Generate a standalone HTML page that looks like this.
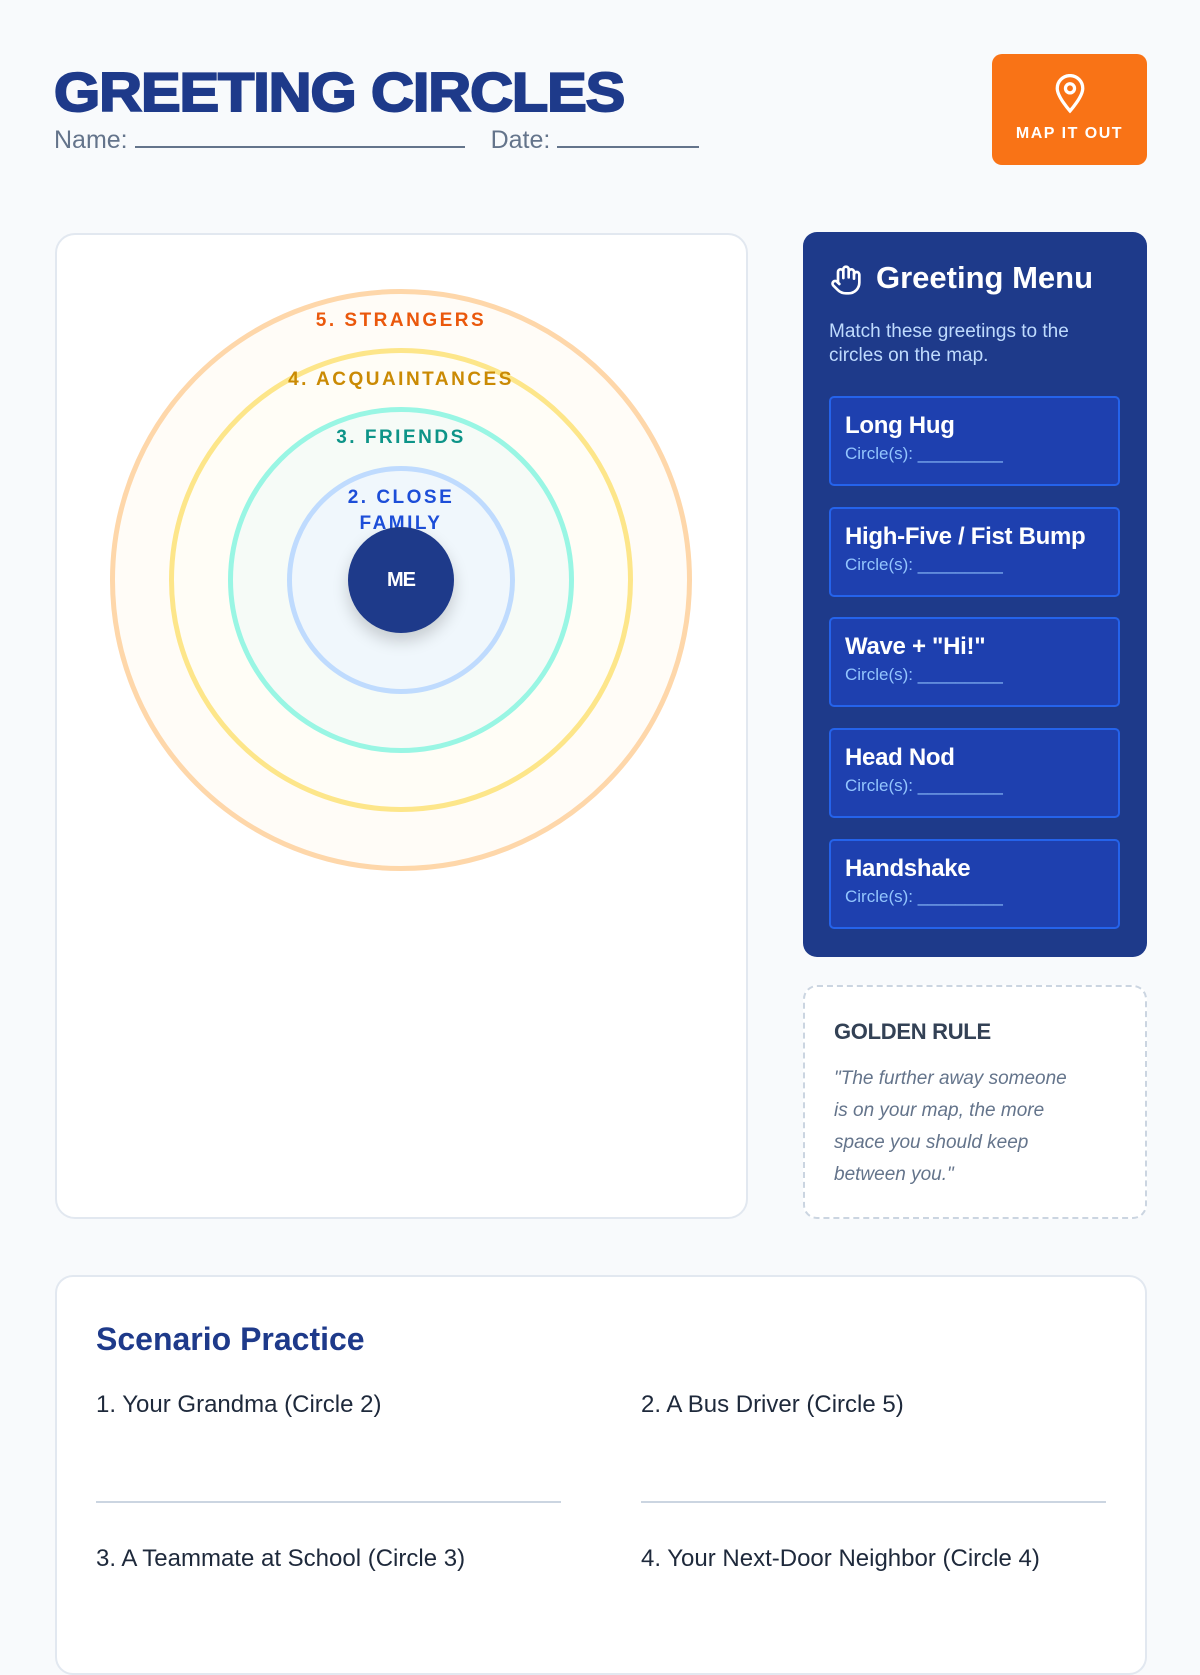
<!DOCTYPE html>
<html><head><meta charset="utf-8"><style>
*{margin:0;padding:0;box-sizing:border-box}
body{width:1200px;height:1600px;background:#f8fafc;font-family:"Liberation Sans",sans-serif;position:relative;overflow:hidden}
.a{position:absolute}
h1{position:absolute;left:54px;top:60px;font-size:55px;font-weight:900;color:#1e3a8a;letter-spacing:-1px;-webkit-text-stroke:2px #1e3a8a;transform:scaleX(1.08);transform-origin:left;white-space:nowrap}
.nd{left:54px;top:126px;font-size:25px;color:#64748b;white-space:nowrap}
.ul{display:inline-block;border-bottom:2px solid #64748b;height:22px;vertical-align:baseline}
.btn{left:992px;top:54px;width:155px;height:111px;background:#f97316;border-radius:10px;color:#fff;text-align:center;font-weight:bold;font-size:16px;letter-spacing:1.5px}
.card{left:55px;top:233px;width:693px;height:986px;background:#fff;border:2px solid #e2e8f0;border-radius:20px}
.ring{position:absolute;border-radius:50%}
.lbl{position:absolute;width:400px;left:201px;text-align:center;font-weight:bold;font-size:19px;letter-spacing:2.5px}
.menu{left:803px;top:232px;width:344px;height:725px;background:#1e3a8a;border-radius:14px}
.item{position:absolute;left:26px;width:291px;height:90px;background:#1e40af;border:2px solid #2563eb;border-radius:5px;padding:14px 0 0 14px}
.item b{display:block;color:#fff;font-size:24px;letter-spacing:-0.3px}
.item span{display:block;color:#93c5fd;font-size:17px;margin-top:4px}
.gold{left:803px;top:985px;width:344px;height:234px;border:2px dashed #cbd5e1;border-radius:14px;background:#fff}
.sc{left:55px;top:1275px;width:1092px;height:400px;background:#fff;border:2px solid #e2e8f0;border-radius:18px}
.q{position:absolute;font-size:24px;color:#1e293b}
.ln{position:absolute;height:2px;background:#cbd5e1;width:465px}
</style></head><body>
<h1>GREETING CIRCLES</h1>
<div class="a nd">Name: <span class="ul" style="width:330px"></span><span style="display:inline-block;width:26px"></span>Date: <span class="ul" style="width:142px"></span></div>
<div class="a btn">
<svg width="34" height="40" viewBox="0 0 24 28" style="margin-top:20px"><path d="M12 26C12 26 3 16 3 10a9 9 0 0 1 18 0c0 6-9 16-9 16z" fill="none" stroke="#fff" stroke-width="2.3"/><circle cx="12" cy="10" r="3.2" fill="none" stroke="#fff" stroke-width="2.3"/></svg>
<div style="margin-top:6px">MAP IT OUT</div></div>
<div class="a card"></div>
<div class="ring" style="left:110px;top:289px;width:582px;height:582px;border:5px solid #fed7aa;background:#fffcf7"></div>
<div class="ring" style="left:169px;top:348px;width:464px;height:464px;border:5px solid #fde68a;background:#fffdf6"></div>
<div class="ring" style="left:228px;top:407px;width:346px;height:346px;border:5px solid #99f6e4;background:#f6fbf7"></div>
<div class="ring" style="left:287px;top:466px;width:228px;height:228px;border:5px solid #bfdbfe;background:#f0f7fc"></div>
<div class="lbl" style="top:310px;color:#ea580c">5. STRANGERS</div>
<div class="lbl" style="top:369px;color:#ca8a04">4. ACQUAINTANCES</div>
<div class="lbl" style="top:427px;color:#0d9488">3. FRIENDS</div>
<div class="lbl" style="top:485px;color:#1d4ed8;line-height:26px">2. CLOSE<br>FAMILY</div>
<div class="ring" style="left:348px;top:527px;width:106px;height:106px;background:#1e3a8a;box-shadow:0 8px 16px rgba(0,0,0,.18);color:#fff;font-weight:bold;font-size:20px;text-align:center;line-height:106px;letter-spacing:-1px">ME</div>
<div class="a menu">
<svg class="a" style="left:26px;top:32px" width="34" height="32" viewBox="0 0 24 24" fill="none" stroke="#fff" stroke-width="2" stroke-linecap="round" stroke-linejoin="round"><path d="M18 11V6a2 2 0 0 0-4 0M14 10V4a2 2 0 0 0-4 0v2M10 10.5V6a2 2 0 0 0-4 0v8"/><path d="M18 8a2 2 0 1 1 4 0v6a8 8 0 0 1-8 8h-2c-2.8 0-4.5-.86-5.99-2.34l-3.6-3.6a2 2 0 0 1 2.83-2.82L7 15"/></svg>
<div class="a" style="left:73px;top:28px;color:#fff;font-size:31px;font-weight:bold">Greeting Menu</div>
<div class="a" style="left:26px;top:88px;width:275px;color:#bfdbfe;font-size:19px;line-height:24px">Match these greetings to the circles on the map.</div>
<div class="item" style="top:164px"><b>Long Hug</b><span>Circle(s): _________</span></div>
<div class="item" style="top:275px"><b>High-Five / Fist Bump</b><span>Circle(s): _________</span></div>
<div class="item" style="top:385px"><b>Wave + "Hi!"</b><span>Circle(s): _________</span></div>
<div class="item" style="top:496px"><b>Head Nod</b><span>Circle(s): _________</span></div>
<div class="item" style="top:607px"><b>Handshake</b><span>Circle(s): _________</span></div>
</div>
<div class="a gold">
<div class="a" style="left:29px;top:32px;font-size:22px;font-weight:bold;color:#334155;letter-spacing:-0.3px">GOLDEN RULE</div>
<div class="a" style="left:29px;top:76px;width:300px;font-size:19px;font-style:italic;color:#64748b;line-height:32px;white-space:nowrap">"The further away someone<br>is on your map, the more<br>space you should keep<br>between you."</div>
</div>
<div class="a sc">
<div class="a" style="left:39px;top:44px;font-size:32px;font-weight:bold;color:#1e3a8a">Scenario Practice</div>
<div class="q" style="left:39px;top:114px">1. Your Grandma (Circle 2)</div>
<div class="q" style="left:584px;top:114px">2. A Bus Driver (Circle 5)</div>
<div class="ln" style="left:39px;top:224px"></div>
<div class="ln" style="left:584px;top:224px"></div>
<div class="q" style="left:39px;top:268px">3. A Teammate at School (Circle 3)</div>
<div class="q" style="left:584px;top:268px">4. Your Next-Door Neighbor (Circle 4)</div>
</div>
</body></html>
